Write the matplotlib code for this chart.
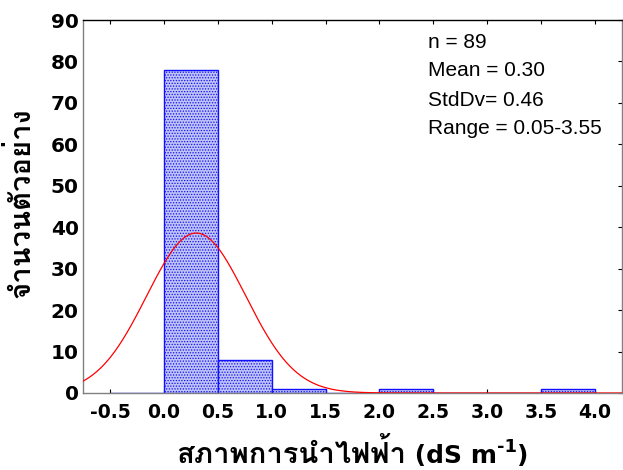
import matplotlib
matplotlib.use('Agg')
import matplotlib.pyplot as plt
import numpy as np

# Data
bin_edges = [-0.5, 0.0, 0.5, 1.0, 1.5, 2.0, 2.5, 3.0, 3.5, 4.0]
counts = [0, 78, 8, 1, 0, 1, 0, 0, 1]
n_obs = 89
mean_val = 0.30
std_val = 0.46
x_ticks = [-0.5, 0.0, 0.5, 1.0, 1.5, 2.0, 2.5, 3.0, 3.5, 4.0]
y_ticks = [0, 10, 20, 30, 40, 50, 60, 70, 80, 90]
stats_lines = ["n = 89", "Mean = 0.30", "StdDv= 0.46", "Range = 0.05-3.55"]
xlabel_thai = "สภาพการนำไฟฟ้า"
xlabel_unit = " (dS m"
xlabel_sup = "-1"
xlabel_end = ")"
ylabel_thai = "จำนวนตัวอย่าง"

thai_fam = ['Loma', 'DejaVu Sans']
lat_fam = ['DejaVu Sans', 'Loma']
plt.rcParams['hatch.linewidth'] = 0.6

fig = plt.figure(figsize=(6.23, 4.7), dpi=100)
ax = fig.add_axes([83/623, 1-393/470, (622-83)/623, (393-20)/470])

edges = np.array(bin_edges)
widths = np.diff(edges)
ax.bar(edges[:-1], counts, width=widths, align='edge', facecolor='#c0c3f6',
       edgecolor='#1010ff', hatch='......', linewidth=1.0, zorder=2)

bw = widths[0]
xs = np.linspace(-0.75, 4.25, 600)
ys = n_obs * bw * np.exp(-0.5 * ((xs - mean_val) / std_val) ** 2) / (std_val * np.sqrt(2 * np.pi))
ax.plot(xs, ys, color='red', linewidth=0.9, zorder=3)

ax.set_xlim(-0.75, 4.25)
ax.set_ylim(0, 90)
ax.set_xticks(x_ticks)
ax.set_xticklabels(['%.1f' % v for v in x_ticks])
ax.set_yticks(y_ticks)
ax.set_yticklabels([str(v) for v in y_ticks])

for lab in ax.get_xticklabels():
    lab.set_fontfamily('DejaVu Sans'); lab.set_fontweight('bold'); lab.set_fontsize(13.5)
for lab in ax.get_yticklabels():
    lab.set_fontfamily('DejaVu Sans'); lab.set_fontweight('bold'); lab.set_fontsize(14.5)

ax.tick_params(axis='both', direction='in', length=3, width=0.8, top=True, right=True,
               color='black')
ax.tick_params(axis='y', left=False, pad=3)
ax.tick_params(axis='x', pad=7)

ax.spines['left'].set_color('#808080')
ax.spines['right'].set_color('#808080')
ax.spines['top'].set_color('black')
ax.spines['bottom'].set_color('#808080')
for s in ax.spines.values():
    s.set_linewidth(1.0)

# y label
fig.text(21/623, 1 - 203/470, ylabel_thai, family=thai_fam, fontweight='bold',
         fontsize=21, rotation=90, ha='center', va='center')

# x label composed of pieces
renderer = fig.canvas.get_renderer()
base_y = 1 - 463/470
pieces = [(xlabel_thai, thai_fam, 21, 0), (xlabel_unit, lat_fam, 18, 0),
          (xlabel_sup, lat_fam, 13, 11), (xlabel_end, lat_fam, 18, 0)]
texts = []
x_cur = 0
for s, fam, fs, dy in pieces:
    t = fig.text(0, base_y + dy/470, s, family=fam,
                 fontweight='bold', fontsize=fs, ha='left', va='baseline')
    w = t.get_window_extent(renderer).width
    texts.append((t, x_cur))
    x_cur += w
start = 352 - x_cur / 2
for t, off in texts:
    t.set_x((start + off) / 623)

for i, s in enumerate(stats_lines):
    fig.text(428/623, 1 - (42 + 29*i)/470, s, family='Liberation Sans', fontsize=15,
             va='center', ha='left')

fig.savefig('out.png', dpi=100)
